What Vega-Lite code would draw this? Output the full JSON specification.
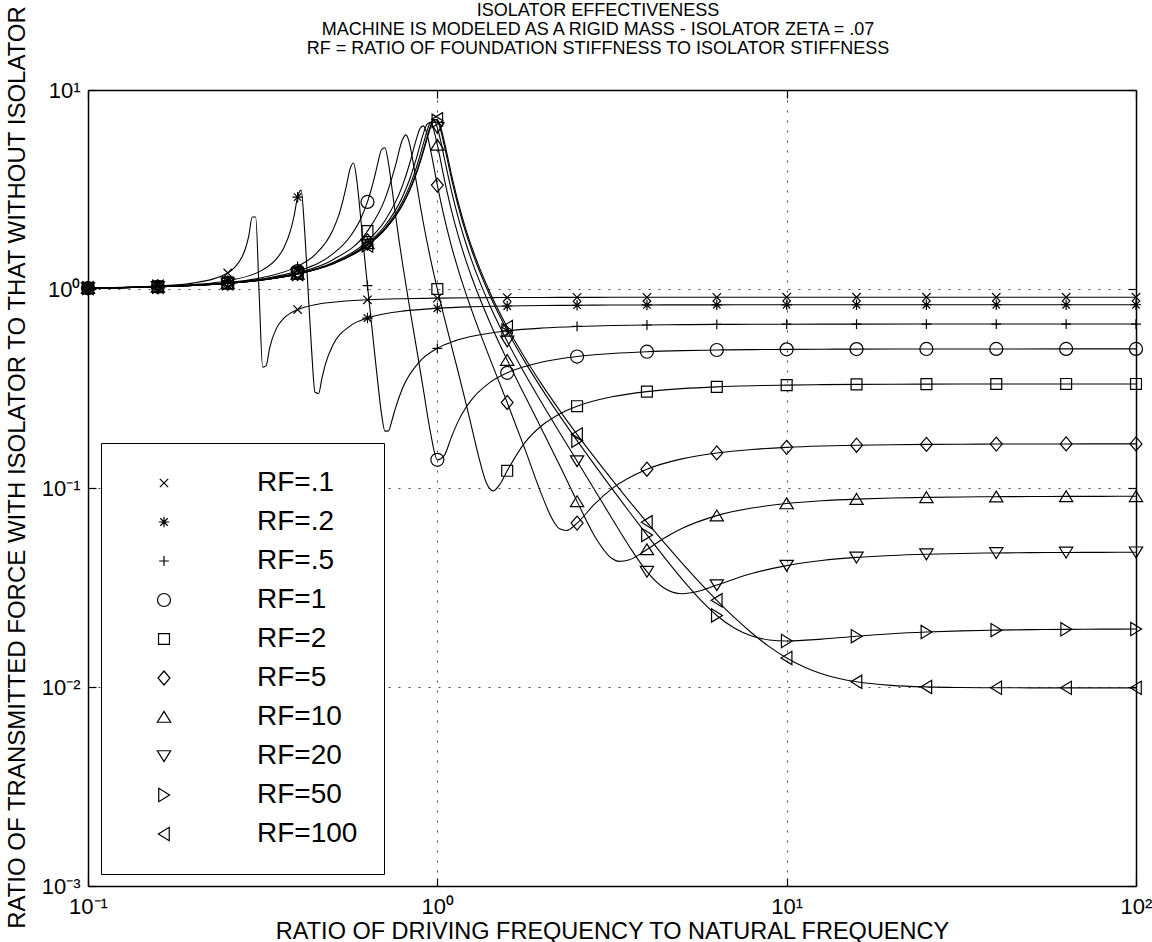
{
  "$schema": "https://vega.github.io/schema/vega-lite/v6.json",
  "width": 1048,
  "height": 796,
  "autosize": {"type": "none"},
  "padding": {"left": 88, "top": 90, "right": 16, "bottom": 56},
  "background": "white",
  "title": {
    "text": ["ISOLATOR EFFECTIVENESS", "MACHINE IS MODELED AS A RIGID MASS - ISOLATOR ZETA = .07", "RF = RATIO OF FOUNDATION STIFFNESS TO ISOLATOR STIFFNESS"],
    "font": "Liberation Sans",
    "fontSize": 18,
    "fontWeight": "normal",
    "color": "black",
    "lineHeight": 19,
    "offset": 9,
    "dy": 62,
    "frame": "group",
    "anchor": "middle",
    "dx": -14
  },
  "datasets": {
    "curves": [
      {"rf":"RF=.1","x":0.1,"y":1.0112},{"rf":"RF=.1","x":0.12589,"y":1.0192},{"rf":"RF=.1","x":0.15849,"y":1.0347},{"rf":"RF=.1","x":0.19953,"y":1.0707},{"rf":"RF=.1","x":0.25119,"y":1.2038},{"rf":"RF=.1","x":0.26303,"y":1.2835},{"rf":"RF=.1","x":0.27542,"y":1.4382},{"rf":"RF=.1","x":0.28184,"y":1.5834},{"rf":"RF=.1","x":0.2884,"y":1.8375},{"rf":"RF=.1","x":0.29512,"y":2.3014},{"rf":"RF=.1","x":0.302,"y":2.3022},{"rf":"RF=.1","x":0.30903,"y":0.939},{"rf":"RF=.1","x":0.31623,"y":0.4048},{"rf":"RF=.1","x":0.32359,"y":0.4125},{"rf":"RF=.1","x":0.33113,"y":0.5066},{"rf":"RF=.1","x":0.34674,"y":0.6378},{"rf":"RF=.1","x":0.36308,"y":0.7115},{"rf":"RF=.1","x":0.38019,"y":0.7573},{"rf":"RF=.1","x":0.39811,"y":0.7881},{"rf":"RF=.1","x":0.44668,"y":0.8335},{"rf":"RF=.1","x":0.50119,"y":0.8578},{"rf":"RF=.1","x":0.63096,"y":0.8823},{"rf":"RF=.1","x":0.79433,"y":0.8938},{"rf":"RF=.1","x":1,"y":0.9},{"rf":"RF=.1","x":1.25893,"y":0.9036},{"rf":"RF=.1","x":1.58489,"y":0.9057},{"rf":"RF=.1","x":1.99526,"y":0.907},{"rf":"RF=.1","x":2.51189,"y":0.9078},{"rf":"RF=.1","x":3.16228,"y":0.9083},{"rf":"RF=.1","x":3.98107,"y":0.9086},{"rf":"RF=.1","x":5.01187,"y":0.9088},{"rf":"RF=.1","x":6.30957,"y":0.9089},{"rf":"RF=.1","x":7.94328,"y":0.909},{"rf":"RF=.1","x":10,"y":0.909},{"rf":"RF=.1","x":15.8489,"y":0.9091},{"rf":"RF=.1","x":25.1189,"y":0.9091},{"rf":"RF=.1","x":39.8107,"y":0.9091},{"rf":"RF=.1","x":63.0957,"y":0.9091},{"rf":"RF=.1","x":100,"y":0.9091},
      {"rf":"RF=.2","x":0.1,"y":1.0106},{"rf":"RF=.2","x":0.12589,"y":1.0175},{"rf":"RF=.2","x":0.15849,"y":1.0296},{"rf":"RF=.2","x":0.19953,"y":1.0522},{"rf":"RF=.2","x":0.25119,"y":1.1012},{"rf":"RF=.2","x":0.31623,"y":1.2473},{"rf":"RF=.2","x":0.34674,"y":1.4206},{"rf":"RF=.2","x":0.36308,"y":1.602},{"rf":"RF=.2","x":0.38019,"y":1.9743},{"rf":"RF=.2","x":0.38905,"y":2.3338},{"rf":"RF=.2","x":0.39811,"y":2.8944},{"rf":"RF=.2","x":0.40738,"y":3.1387},{"rf":"RF=.2","x":0.41687,"y":1.9847},{"rf":"RF=.2","x":0.42658,"y":0.9873},{"rf":"RF=.2","x":0.43652,"y":0.496},{"rf":"RF=.2","x":0.44668,"y":0.3026},{"rf":"RF=.2","x":0.45709,"y":0.2984},{"rf":"RF=.2","x":0.46774,"y":0.3583},{"rf":"RF=.2","x":0.47863,"y":0.4209},{"rf":"RF=.2","x":0.50119,"y":0.5184},{"rf":"RF=.2","x":0.56234,"y":0.651},{"rf":"RF=.2","x":0.63096,"y":0.7147},{"rf":"RF=.2","x":0.70795,"y":0.751},{"rf":"RF=.2","x":0.79433,"y":0.7739},{"rf":"RF=.2","x":1,"y":0.8002},{"rf":"RF=.2","x":1.25893,"y":0.8138},{"rf":"RF=.2","x":1.58489,"y":0.8215},{"rf":"RF=.2","x":1.99526,"y":0.8261},{"rf":"RF=.2","x":2.51189,"y":0.8288},{"rf":"RF=.2","x":3.16228,"y":0.8305},{"rf":"RF=.2","x":3.98107,"y":0.8316},{"rf":"RF=.2","x":5.01187,"y":0.8322},{"rf":"RF=.2","x":6.30957,"y":0.8326},{"rf":"RF=.2","x":7.94328,"y":0.8329},{"rf":"RF=.2","x":10,"y":0.8331},{"rf":"RF=.2","x":15.8489,"y":0.8332},{"rf":"RF=.2","x":25.1189,"y":0.8333},{"rf":"RF=.2","x":39.8107,"y":0.8333},{"rf":"RF=.2","x":63.0957,"y":0.8333},{"rf":"RF=.2","x":100,"y":0.8333},
      {"rf":"RF=.5","x":0.1,"y":1.0103},{"rf":"RF=.5","x":0.12589,"y":1.0166},{"rf":"RF=.5","x":0.15849,"y":1.0272},{"rf":"RF=.5","x":0.19953,"y":1.0452},{"rf":"RF=.5","x":0.25119,"y":1.0777},{"rf":"RF=.5","x":0.31623,"y":1.1423},{"rf":"RF=.5","x":0.39811,"y":1.2992},{"rf":"RF=.5","x":0.44668,"y":1.4872},{"rf":"RF=.5","x":0.50119,"y":1.9613},{"rf":"RF=.5","x":0.52481,"y":2.4128},{"rf":"RF=.5","x":0.54954,"y":3.3208},{"rf":"RF=.5","x":0.56234,"y":4.0},{"rf":"RF=.5","x":0.57544,"y":4.2955},{"rf":"RF=.5","x":0.58884,"y":3.4606},{"rf":"RF=.5","x":0.60256,"y":2.3335},{"rf":"RF=.5","x":0.6166,"y":1.544},{"rf":"RF=.5","x":0.63096,"y":1.0405},{"rf":"RF=.5","x":0.64565,"y":0.7104},{"rf":"RF=.5","x":0.66069,"y":0.4862},{"rf":"RF=.5","x":0.67608,"y":0.3335},{"rf":"RF=.5","x":0.69183,"y":0.2371},{"rf":"RF=.5","x":0.70795,"y":0.1932},{"rf":"RF=.5","x":0.72444,"y":0.1936},{"rf":"RF=.5","x":0.74131,"y":0.2184},{"rf":"RF=.5","x":0.75858,"y":0.2514},{"rf":"RF=.5","x":0.79433,"y":0.3162},{"rf":"RF=.5","x":0.89125,"y":0.4333},{"rf":"RF=.5","x":1,"y":0.5036},{"rf":"RF=.5","x":1.12202,"y":0.5487},{"rf":"RF=.5","x":1.25893,"y":0.5792},{"rf":"RF=.5","x":1.58489,"y":0.6162},{"rf":"RF=.5","x":1.99526,"y":0.6365},{"rf":"RF=.5","x":2.51189,"y":0.6482},{"rf":"RF=.5","x":3.16228,"y":0.6553},{"rf":"RF=.5","x":3.98107,"y":0.6595},{"rf":"RF=.5","x":5.01187,"y":0.6622},{"rf":"RF=.5","x":6.30957,"y":0.6639},{"rf":"RF=.5","x":7.94328,"y":0.6649},{"rf":"RF=.5","x":10,"y":0.6656},{"rf":"RF=.5","x":12.5893,"y":0.666},{"rf":"RF=.5","x":15.8489,"y":0.6662},{"rf":"RF=.5","x":25.1189,"y":0.6665},{"rf":"RF=.5","x":39.8107,"y":0.6666},{"rf":"RF=.5","x":63.0957,"y":0.6667},{"rf":"RF=.5","x":100,"y":0.6667},
      {"rf":"RF=1","x":0.1,"y":1.0102},{"rf":"RF=1","x":0.12589,"y":1.0164},{"rf":"RF=1","x":0.15849,"y":1.0264},{"rf":"RF=1","x":0.19953,"y":1.0432},{"rf":"RF=1","x":0.25119,"y":1.0721},{"rf":"RF=1","x":0.31623,"y":1.1246},{"rf":"RF=1","x":0.39811,"y":1.2307},{"rf":"RF=1","x":0.50119,"y":1.4966},{"rf":"RF=1","x":0.56234,"y":1.8311},{"rf":"RF=1","x":0.60256,"y":2.2422},{"rf":"RF=1","x":0.63096,"y":2.739},{"rf":"RF=1","x":0.66069,"y":3.635},{"rf":"RF=1","x":0.67608,"y":4.3132},{"rf":"RF=1","x":0.69183,"y":5.009},{"rf":"RF=1","x":0.70795,"y":5.1297},{"rf":"RF=1","x":0.72444,"y":4.3035},{"rf":"RF=1","x":0.74131,"y":3.2217},{"rf":"RF=1","x":0.75858,"y":2.3719},{"rf":"RF=1","x":0.77625,"y":1.775},{"rf":"RF=1","x":0.79433,"y":1.3546},{"rf":"RF=1","x":0.83176,"y":0.8217},{"rf":"RF=1","x":0.87096,"y":0.509},{"rf":"RF=1","x":0.91201,"y":0.3126},{"rf":"RF=1","x":0.95499,"y":0.1917},{"rf":"RF=1","x":1,"y":0.1386},{"rf":"RF=1","x":1.04713,"y":0.146},{"rf":"RF=1","x":1.09648,"y":0.1797},{"rf":"RF=1","x":1.14815,"y":0.2168},{"rf":"RF=1","x":1.20226,"y":0.2508},{"rf":"RF=1","x":1.25893,"y":0.2806},{"rf":"RF=1","x":1.41254,"y":0.3386},{"rf":"RF=1","x":1.58489,"y":0.3792},{"rf":"RF=1","x":1.99526,"y":0.4297},{"rf":"RF=1","x":2.51189,"y":0.4578},{"rf":"RF=1","x":3.16228,"y":0.4741},{"rf":"RF=1","x":3.98107,"y":0.484},{"rf":"RF=1","x":5.01187,"y":0.49},{"rf":"RF=1","x":6.30957,"y":0.4937},{"rf":"RF=1","x":7.94328,"y":0.4961},{"rf":"RF=1","x":10,"y":0.4975},{"rf":"RF=1","x":12.5893,"y":0.4984},{"rf":"RF=1","x":15.8489,"y":0.499},{"rf":"RF=1","x":19.9526,"y":0.4994},{"rf":"RF=1","x":25.1189,"y":0.4996},{"rf":"RF=1","x":39.8107,"y":0.4998},{"rf":"RF=1","x":63.0957,"y":0.4999},{"rf":"RF=1","x":100,"y":0.5},
      {"rf":"RF=2","x":0.1,"y":1.0101},{"rf":"RF=2","x":0.12589,"y":1.0162},{"rf":"RF=2","x":0.15849,"y":1.0261},{"rf":"RF=2","x":0.19953,"y":1.0423},{"rf":"RF=2","x":0.25119,"y":1.0696},{"rf":"RF=2","x":0.31623,"y":1.1173},{"rf":"RF=2","x":0.39811,"y":1.2069},{"rf":"RF=2","x":0.50119,"y":1.3987},{"rf":"RF=2","x":0.63096,"y":1.9539},{"rf":"RF=2","x":0.70795,"y":2.8283},{"rf":"RF=2","x":0.75858,"y":4.1575},{"rf":"RF=2","x":0.79433,"y":5.6184},{"rf":"RF=2","x":0.81283,"y":5.9506},{"rf":"RF=2","x":0.83176,"y":5.4273},{"rf":"RF=2","x":0.85114,"y":4.4036},{"rf":"RF=2","x":0.87096,"y":3.4369},{"rf":"RF=2","x":0.89125,"y":2.6935},{"rf":"RF=2","x":0.91201,"y":2.1459},{"rf":"RF=2","x":0.95499,"y":1.4307},{"rf":"RF=2","x":1,"y":1.0},{"rf":"RF=2","x":1.04713,"y":0.7183},{"rf":"RF=2","x":1.09648,"y":0.5225},{"rf":"RF=2","x":1.14815,"y":0.3805},{"rf":"RF=2","x":1.20226,"y":0.2748},{"rf":"RF=2","x":1.25893,"y":0.1961},{"rf":"RF=2","x":1.31826,"y":0.14},{"rf":"RF=2","x":1.38038,"y":0.1065},{"rf":"RF=2","x":1.44544,"y":0.0967},{"rf":"RF=2","x":1.51356,"y":0.1051},{"rf":"RF=2","x":1.58489,"y":0.122},{"rf":"RF=2","x":1.77828,"y":0.1685},{"rf":"RF=2","x":1.99526,"y":0.2067},{"rf":"RF=2","x":2.23872,"y":0.2357},{"rf":"RF=2","x":2.51189,"y":0.2577},{"rf":"RF=2","x":3.16228,"y":0.2873},{"rf":"RF=2","x":3.98107,"y":0.305},{"rf":"RF=2","x":5.01187,"y":0.3157},{"rf":"RF=2","x":6.30957,"y":0.3223},{"rf":"RF=2","x":7.94328,"y":0.3264},{"rf":"RF=2","x":10,"y":0.329},{"rf":"RF=2","x":12.5893,"y":0.3306},{"rf":"RF=2","x":15.8489,"y":0.3316},{"rf":"RF=2","x":19.9526,"y":0.3322},{"rf":"RF=2","x":25.1189,"y":0.3327},{"rf":"RF=2","x":31.6228,"y":0.3329},{"rf":"RF=2","x":39.8107,"y":0.3331},{"rf":"RF=2","x":63.0957,"y":0.3332},{"rf":"RF=2","x":100,"y":0.3333},
      {"rf":"RF=5","x":0.1,"y":1.0101},{"rf":"RF=5","x":0.12589,"y":1.0162},{"rf":"RF=5","x":0.15849,"y":1.0259},{"rf":"RF=5","x":0.19953,"y":1.0418},{"rf":"RF=5","x":0.25119,"y":1.0682},{"rf":"RF=5","x":0.31623,"y":1.1134},{"rf":"RF=5","x":0.39811,"y":1.1949},{"rf":"RF=5","x":0.50119,"y":1.3565},{"rf":"RF=5","x":0.63096,"y":1.7456},{"rf":"RF=5","x":0.70795,"y":2.204},{"rf":"RF=5","x":0.79433,"y":3.2978},{"rf":"RF=5","x":0.83176,"y":4.2228},{"rf":"RF=5","x":0.87096,"y":5.6614},{"rf":"RF=5","x":0.89125,"y":6.3807},{"rf":"RF=5","x":0.91201,"y":6.6044},{"rf":"RF=5","x":0.93325,"y":6.0481},{"rf":"RF=5","x":0.95499,"y":5.0616},{"rf":"RF=5","x":1,"y":3.3267},{"rf":"RF=5","x":1.04713,"y":2.2817},{"rf":"RF=5","x":1.09648,"y":1.6538},{"rf":"RF=5","x":1.14815,"y":1.2484},{"rf":"RF=5","x":1.20226,"y":0.9695},{"rf":"RF=5","x":1.25893,"y":0.7676},{"rf":"RF=5","x":1.41254,"y":0.4492},{"rf":"RF=5","x":1.58489,"y":0.2689},{"rf":"RF=5","x":1.77828,"y":0.1582},{"rf":"RF=5","x":1.99526,"y":0.0913},{"rf":"RF=5","x":2.13796,"y":0.06927},{"rf":"RF=5","x":2.23872,"y":0.06239},{"rf":"RF=5","x":2.34423,"y":0.06117},{"rf":"RF=5","x":2.51189,"y":0.06663},{"rf":"RF=5","x":2.81838,"y":0.08297},{"rf":"RF=5","x":3.16228,"y":0.09934},{"rf":"RF=5","x":3.98107,"y":0.12427},{"rf":"RF=5","x":5.01187,"y":0.14012},{"rf":"RF=5","x":6.30957,"y":0.15002},{"rf":"RF=5","x":7.94328,"y":0.1562},{"rf":"RF=5","x":10,"y":0.16008},{"rf":"RF=5","x":12.5893,"y":0.16252},{"rf":"RF=5","x":15.8489,"y":0.16406},{"rf":"RF=5","x":19.9526,"y":0.16502},{"rf":"RF=5","x":25.1189,"y":0.16563},{"rf":"RF=5","x":31.6228,"y":0.16601},{"rf":"RF=5","x":39.8107,"y":0.16625},{"rf":"RF=5","x":50.1187,"y":0.16641},{"rf":"RF=5","x":63.0957,"y":0.1665},{"rf":"RF=5","x":79.4328,"y":0.16656},{"rf":"RF=5","x":100,"y":0.1666},
      {"rf":"RF=10","x":0.1,"y":1.0101},{"rf":"RF=10","x":0.12589,"y":1.0161},{"rf":"RF=10","x":0.15849,"y":1.0258},{"rf":"RF=10","x":0.19953,"y":1.0416},{"rf":"RF=10","x":0.25119,"y":1.0677},{"rf":"RF=10","x":0.31623,"y":1.1121},{"rf":"RF=10","x":0.39811,"y":1.1912},{"rf":"RF=10","x":0.50119,"y":1.3443},{"rf":"RF=10","x":0.63096,"y":1.6947},{"rf":"RF=10","x":0.70795,"y":2.0784},{"rf":"RF=10","x":0.79433,"y":2.8983},{"rf":"RF=10","x":0.83176,"y":3.5286},{"rf":"RF=10","x":0.87096,"y":4.5334},{"rf":"RF=10","x":0.91201,"y":6.0335},{"rf":"RF=10","x":0.93325,"y":6.7205},{"rf":"RF=10","x":0.95499,"y":6.8687},{"rf":"RF=10","x":0.97724,"y":6.2729},{"rf":"RF=10","x":1,"y":5.2941},{"rf":"RF=10","x":1.04713,"y":3.5674},{"rf":"RF=10","x":1.09648,"y":2.5005},{"rf":"RF=10","x":1.14815,"y":1.8474},{"rf":"RF=10","x":1.20226,"y":1.4211},{"rf":"RF=10","x":1.25893,"y":1.1254},{"rf":"RF=10","x":1.41254,"y":0.6809},{"rf":"RF=10","x":1.58489,"y":0.4395},{"rf":"RF=10","x":1.77828,"y":0.2921},{"rf":"RF=10","x":1.99526,"y":0.1957},{"rf":"RF=10","x":2.23872,"y":0.1302},{"rf":"RF=10","x":2.51189,"y":0.08566},{"rf":"RF=10","x":2.81838,"y":0.05743},{"rf":"RF=10","x":3.16228,"y":0.04423},{"rf":"RF=10","x":3.31131,"y":0.04277},{"rf":"RF=10","x":3.54813,"y":0.04357},{"rf":"RF=10","x":3.98107,"y":0.04913},{"rf":"RF=10","x":4.46684,"y":0.05609},{"rf":"RF=10","x":5.01187,"y":0.06257},{"rf":"RF=10","x":6.30957,"y":0.07264},{"rf":"RF=10","x":7.94328,"y":0.07929},{"rf":"RF=10","x":10,"y":0.08356},{"rf":"RF=10","x":12.5893,"y":0.08626},{"rf":"RF=10","x":15.8489,"y":0.08797},{"rf":"RF=10","x":19.9526,"y":0.08906},{"rf":"RF=10","x":25.1189,"y":0.08974},{"rf":"RF=10","x":31.6228,"y":0.09017},{"rf":"RF=10","x":39.8107,"y":0.09044},{"rf":"RF=10","x":50.1187,"y":0.09062},{"rf":"RF=10","x":63.0957,"y":0.09072},{"rf":"RF=10","x":79.4328,"y":0.09079},{"rf":"RF=10","x":100,"y":0.09084},
      {"rf":"RF=20","x":0.1,"y":1.0101},{"rf":"RF=20","x":0.12589,"y":1.0161},{"rf":"RF=20","x":0.15849,"y":1.0258},{"rf":"RF=20","x":0.19953,"y":1.0415},{"rf":"RF=20","x":0.25119,"y":1.0675},{"rf":"RF=20","x":0.31623,"y":1.1115},{"rf":"RF=20","x":0.39811,"y":1.1894},{"rf":"RF=20","x":0.50119,"y":1.3385},{"rf":"RF=20","x":0.63096,"y":1.6717},{"rf":"RF=20","x":0.70795,"y":2.0247},{"rf":"RF=20","x":0.79433,"y":2.7433},{"rf":"RF=20","x":0.83176,"y":3.2705},{"rf":"RF=20","x":0.87096,"y":4.0879},{"rf":"RF=20","x":0.91201,"y":5.3763},{"rf":"RF=20","x":0.93325,"y":6.1826},{"rf":"RF=20","x":0.95499,"y":6.8711},{"rf":"RF=20","x":0.97724,"y":7.0302},{"rf":"RF=20","x":1,"y":6.4594},{"rf":"RF=20","x":1.02329,"y":5.495},{"rf":"RF=20","x":1.04713,"y":4.5401},{"rf":"RF=20","x":1.09648,"y":3.1329},{"rf":"RF=20","x":1.14815,"y":2.276},{"rf":"RF=20","x":1.20226,"y":1.732},{"rf":"RF=20","x":1.25893,"y":1.3643},{"rf":"RF=20","x":1.41254,"y":0.8283},{"rf":"RF=20","x":1.58489,"y":0.5459},{"rf":"RF=20","x":1.77828,"y":0.3762},{"rf":"RF=20","x":1.99526,"y":0.2657},{"rf":"RF=20","x":2.23872,"y":0.19006},{"rf":"RF=20","x":2.51189,"y":0.13654},{"rf":"RF=20","x":2.81838,"y":0.09801},{"rf":"RF=20","x":3.16228,"y":0.07022},{"rf":"RF=20","x":3.54813,"y":0.05068},{"rf":"RF=20","x":3.98107,"y":0.038},{"rf":"RF=20","x":4.46684,"y":0.03133},{"rf":"RF=20","x":5.01187,"y":0.02942},{"rf":"RF=20","x":5.62341,"y":0.03038},{"rf":"RF=20","x":6.30957,"y":0.03252},{"rf":"RF=20","x":7.94328,"y":0.03716},{"rf":"RF=20","x":10,"y":0.04075},{"rf":"RF=20","x":12.5893,"y":0.04319},{"rf":"RF=20","x":15.8489,"y":0.0448},{"rf":"RF=20","x":19.9526,"y":0.04583},{"rf":"RF=20","x":25.1189,"y":0.04648},{"rf":"RF=20","x":31.6228,"y":0.0469},{"rf":"RF=20","x":39.8107,"y":0.04717},{"rf":"RF=20","x":50.1187,"y":0.04733},{"rf":"RF=20","x":63.0957,"y":0.04744},{"rf":"RF=20","x":79.4328,"y":0.0475},{"rf":"RF=20","x":100,"y":0.04755},
      {"rf":"RF=50","x":0.1,"y":1.0101},{"rf":"RF=50","x":0.12589,"y":1.0161},{"rf":"RF=50","x":0.15849,"y":1.0258},{"rf":"RF=50","x":0.19953,"y":1.0415},{"rf":"RF=50","x":0.25119,"y":1.0673},{"rf":"RF=50","x":0.31623,"y":1.1111},{"rf":"RF=50","x":0.39811,"y":1.1883},{"rf":"RF=50","x":0.50119,"y":1.3351},{"rf":"RF=50","x":0.63096,"y":1.6587},{"rf":"RF=50","x":0.70795,"y":1.9949},{"rf":"RF=50","x":0.79433,"y":2.6612},{"rf":"RF=50","x":0.83176,"y":3.1372},{"rf":"RF=50","x":0.87096,"y":3.861},{"rf":"RF=50","x":0.91201,"y":5.0024},{"rf":"RF=50","x":0.93325,"y":5.7683},{"rf":"RF=50","x":0.95499,"y":6.5705},{"rf":"RF=50","x":0.97724,"y":7.1126},{"rf":"RF=50","x":1,"y":7.0},{"rf":"RF=50","x":1.02329,"y":6.2384},{"rf":"RF=50","x":1.04713,"y":5.2482},{"rf":"RF=50","x":1.09648,"y":3.6128},{"rf":"RF=50","x":1.14815,"y":2.5951},{"rf":"RF=50","x":1.20226,"y":1.9581},{"rf":"RF=50","x":1.25893,"y":1.5348},{"rf":"RF=50","x":1.41254,"y":0.9301},{"rf":"RF=50","x":1.58489,"y":0.6182},{"rf":"RF=50","x":1.77828,"y":0.4328},{"rf":"RF=50","x":1.99526,"y":0.313},{"rf":"RF=50","x":2.23872,"y":0.231},{"rf":"RF=50","x":2.51189,"y":0.17292},{"rf":"RF=50","x":2.81838,"y":0.13062},{"rf":"RF=50","x":3.16228,"y":0.09927},{"rf":"RF=50","x":3.54813,"y":0.07578},{"rf":"RF=50","x":3.98107,"y":0.05809},{"rf":"RF=50","x":4.46684,"y":0.04479},{"rf":"RF=50","x":5.01187,"y":0.03492},{"rf":"RF=50","x":5.62341,"y":0.02779},{"rf":"RF=50","x":6.30957,"y":0.02288},{"rf":"RF=50","x":7.07946,"y":0.01977},{"rf":"RF=50","x":7.94328,"y":0.01803},{"rf":"RF=50","x":8.91251,"y":0.01724},{"rf":"RF=50","x":10,"y":0.01703},{"rf":"RF=50","x":12.5893,"y":0.0174},{"rf":"RF=50","x":15.8489,"y":0.018},{"rf":"RF=50","x":19.9526,"y":0.01852},{"rf":"RF=50","x":25.1189,"y":0.01889},{"rf":"RF=50","x":31.6228,"y":0.01914},{"rf":"RF=50","x":39.8107,"y":0.01931},{"rf":"RF=50","x":50.1187,"y":0.01942},{"rf":"RF=50","x":63.0957,"y":0.01949},{"rf":"RF=50","x":79.4328,"y":0.01953},{"rf":"RF=50","x":100,"y":0.01956},
      {"rf":"RF=100","x":0.1,"y":1.0101},{"rf":"RF=100","x":0.12589,"y":1.0161},{"rf":"RF=100","x":0.15849,"y":1.0258},{"rf":"RF=100","x":0.19953,"y":1.0415},{"rf":"RF=100","x":0.25119,"y":1.0673},{"rf":"RF=100","x":0.31623,"y":1.111},{"rf":"RF=100","x":0.39811,"y":1.1879},{"rf":"RF=100","x":0.50119,"y":1.334},{"rf":"RF=100","x":0.63096,"y":1.6544},{"rf":"RF=100","x":0.70795,"y":1.9853},{"rf":"RF=100","x":0.79433,"y":2.6355},{"rf":"RF=100","x":0.83176,"y":3.0959},{"rf":"RF=100","x":0.87096,"y":3.7914},{"rf":"RF=100","x":0.91201,"y":4.886},{"rf":"RF=100","x":0.93325,"y":5.6292},{"rf":"RF=100","x":0.95499,"y":6.4413},{"rf":"RF=100","x":0.97724,"y":7.0745},{"rf":"RF=100","x":1,"y":7.1236},{"rf":"RF=100","x":1.02329,"y":6.4753},{"rf":"RF=100","x":1.04713,"y":5.501},{"rf":"RF=100","x":1.09648,"y":3.793},{"rf":"RF=100","x":1.14815,"y":2.7142},{"rf":"RF=100","x":1.20226,"y":2.0416},{"rf":"RF=100","x":1.25893,"y":1.597},{"rf":"RF=100","x":1.41254,"y":0.9667},{"rf":"RF=100","x":1.58489,"y":0.6438},{"rf":"RF=100","x":1.77828,"y":0.4528},{"rf":"RF=100","x":1.99526,"y":0.3296},{"rf":"RF=100","x":2.23872,"y":0.2455},{"rf":"RF=100","x":2.51189,"y":0.18587},{"rf":"RF=100","x":2.81838,"y":0.14239},{"rf":"RF=100","x":3.16228,"y":0.11009},{"rf":"RF=100","x":3.54813,"y":0.08574},{"rf":"RF=100","x":3.98107,"y":0.06721},{"rf":"RF=100","x":4.46684,"y":0.05301},{"rf":"RF=100","x":5.01187,"y":0.04209},{"rf":"RF=100","x":5.62341,"y":0.03369},{"rf":"RF=100","x":6.30957,"y":0.02726},{"rf":"RF=100","x":7.07946,"y":0.02236},{"rf":"RF=100","x":7.94328,"y":0.01868},{"rf":"RF=100","x":8.91251,"y":0.01596},{"rf":"RF=100","x":10,"y":0.014},{"rf":"RF=100","x":11.2202,"y":0.01262},{"rf":"RF=100","x":12.5893,"y":0.01167},{"rf":"RF=100","x":14.1254,"y":0.01104},{"rf":"RF=100","x":15.8489,"y":0.01062},{"rf":"RF=100","x":19.9526,"y":0.01019},{"rf":"RF=100","x":25.1189,"y":0.01001},{"rf":"RF=100","x":31.6228,"y":0.00994},{"rf":"RF=100","x":39.8107,"y":0.009914},{"rf":"RF=100","x":50.1187,"y":0.009905},{"rf":"RF=100","x":63.0957,"y":0.009902},{"rf":"RF=100","x":79.4328,"y":0.009901},{"rf":"RF=100","x":100,"y":0.009901}
    ],
    "markers": [
      {"rf":"RF=.1","x":0.1,"y":1.0112},{"rf":"RF=.1","x":0.15849,"y":1.0347},{"rf":"RF=.1","x":0.25119,"y":1.2038},{"rf":"RF=.1","x":0.39811,"y":0.7881},{"rf":"RF=.1","x":0.63096,"y":0.8823},{"rf":"RF=.1","x":1,"y":0.9},{"rf":"RF=.1","x":1.58489,"y":0.9057},{"rf":"RF=.1","x":2.51189,"y":0.9078},{"rf":"RF=.1","x":3.98107,"y":0.9086},{"rf":"RF=.1","x":6.30957,"y":0.9089},{"rf":"RF=.1","x":10,"y":0.909},{"rf":"RF=.1","x":15.8489,"y":0.9091},{"rf":"RF=.1","x":25.1189,"y":0.9091},{"rf":"RF=.1","x":39.8107,"y":0.9091},{"rf":"RF=.1","x":63.0957,"y":0.9091},{"rf":"RF=.1","x":100,"y":0.9091},
      {"rf":"RF=.2","x":0.1,"y":1.0106},{"rf":"RF=.2","x":0.15849,"y":1.0296},{"rf":"RF=.2","x":0.25119,"y":1.1012},{"rf":"RF=.2","x":0.39811,"y":2.8944},{"rf":"RF=.2","x":0.63096,"y":0.7147},{"rf":"RF=.2","x":1,"y":0.8002},{"rf":"RF=.2","x":1.58489,"y":0.8215},{"rf":"RF=.2","x":2.51189,"y":0.8288},{"rf":"RF=.2","x":3.98107,"y":0.8316},{"rf":"RF=.2","x":6.30957,"y":0.8326},{"rf":"RF=.2","x":10,"y":0.8331},{"rf":"RF=.2","x":15.8489,"y":0.8332},{"rf":"RF=.2","x":25.1189,"y":0.8333},{"rf":"RF=.2","x":39.8107,"y":0.8333},{"rf":"RF=.2","x":63.0957,"y":0.8333},{"rf":"RF=.2","x":100,"y":0.8333},
      {"rf":"RF=.5","x":0.1,"y":1.0103},{"rf":"RF=.5","x":0.15849,"y":1.0272},{"rf":"RF=.5","x":0.25119,"y":1.0777},{"rf":"RF=.5","x":0.39811,"y":1.2992},{"rf":"RF=.5","x":0.63096,"y":1.0405},{"rf":"RF=.5","x":1,"y":0.5036},{"rf":"RF=.5","x":1.58489,"y":0.6162},{"rf":"RF=.5","x":2.51189,"y":0.6482},{"rf":"RF=.5","x":3.98107,"y":0.6595},{"rf":"RF=.5","x":6.30957,"y":0.6639},{"rf":"RF=.5","x":10,"y":0.6656},{"rf":"RF=.5","x":15.8489,"y":0.6662},{"rf":"RF=.5","x":25.1189,"y":0.6665},{"rf":"RF=.5","x":39.8107,"y":0.6666},{"rf":"RF=.5","x":63.0957,"y":0.6667},{"rf":"RF=.5","x":100,"y":0.6667},
      {"rf":"RF=1","x":0.1,"y":1.0102},{"rf":"RF=1","x":0.15849,"y":1.0264},{"rf":"RF=1","x":0.25119,"y":1.0721},{"rf":"RF=1","x":0.39811,"y":1.2307},{"rf":"RF=1","x":0.63096,"y":2.739},{"rf":"RF=1","x":1,"y":0.1386},{"rf":"RF=1","x":1.58489,"y":0.3792},{"rf":"RF=1","x":2.51189,"y":0.4578},{"rf":"RF=1","x":3.98107,"y":0.484},{"rf":"RF=1","x":6.30957,"y":0.4937},{"rf":"RF=1","x":10,"y":0.4975},{"rf":"RF=1","x":15.8489,"y":0.499},{"rf":"RF=1","x":25.1189,"y":0.4996},{"rf":"RF=1","x":39.8107,"y":0.4998},{"rf":"RF=1","x":63.0957,"y":0.4999},{"rf":"RF=1","x":100,"y":0.5},
      {"rf":"RF=2","x":0.1,"y":1.0101},{"rf":"RF=2","x":0.15849,"y":1.0261},{"rf":"RF=2","x":0.25119,"y":1.0696},{"rf":"RF=2","x":0.39811,"y":1.2069},{"rf":"RF=2","x":0.63096,"y":1.9539},{"rf":"RF=2","x":1,"y":1.0},{"rf":"RF=2","x":1.58489,"y":0.122},{"rf":"RF=2","x":2.51189,"y":0.2577},{"rf":"RF=2","x":3.98107,"y":0.305},{"rf":"RF=2","x":6.30957,"y":0.3223},{"rf":"RF=2","x":10,"y":0.329},{"rf":"RF=2","x":15.8489,"y":0.3316},{"rf":"RF=2","x":25.1189,"y":0.3327},{"rf":"RF=2","x":39.8107,"y":0.3331},{"rf":"RF=2","x":63.0957,"y":0.3332},{"rf":"RF=2","x":100,"y":0.3333},
      {"rf":"RF=5","x":0.1,"y":1.0101},{"rf":"RF=5","x":0.15849,"y":1.0259},{"rf":"RF=5","x":0.25119,"y":1.0682},{"rf":"RF=5","x":0.39811,"y":1.1949},{"rf":"RF=5","x":0.63096,"y":1.7456},{"rf":"RF=5","x":1,"y":3.3267},{"rf":"RF=5","x":1.58489,"y":0.2689},{"rf":"RF=5","x":2.51189,"y":0.06663},{"rf":"RF=5","x":3.98107,"y":0.12427},{"rf":"RF=5","x":6.30957,"y":0.15002},{"rf":"RF=5","x":10,"y":0.16008},{"rf":"RF=5","x":15.8489,"y":0.16406},{"rf":"RF=5","x":25.1189,"y":0.16563},{"rf":"RF=5","x":39.8107,"y":0.16625},{"rf":"RF=5","x":63.0957,"y":0.1665},{"rf":"RF=5","x":100,"y":0.1666},
      {"rf":"RF=10","x":0.1,"y":1.0101},{"rf":"RF=10","x":0.15849,"y":1.0258},{"rf":"RF=10","x":0.25119,"y":1.0677},{"rf":"RF=10","x":0.39811,"y":1.1912},{"rf":"RF=10","x":0.63096,"y":1.6947},{"rf":"RF=10","x":1,"y":5.2941},{"rf":"RF=10","x":1.58489,"y":0.4395},{"rf":"RF=10","x":2.51189,"y":0.08566},{"rf":"RF=10","x":3.98107,"y":0.04913},{"rf":"RF=10","x":6.30957,"y":0.07264},{"rf":"RF=10","x":10,"y":0.08356},{"rf":"RF=10","x":15.8489,"y":0.08797},{"rf":"RF=10","x":25.1189,"y":0.08974},{"rf":"RF=10","x":39.8107,"y":0.09044},{"rf":"RF=10","x":63.0957,"y":0.09072},{"rf":"RF=10","x":100,"y":0.09084},
      {"rf":"RF=20","x":0.1,"y":1.0101},{"rf":"RF=20","x":0.15849,"y":1.0258},{"rf":"RF=20","x":0.25119,"y":1.0675},{"rf":"RF=20","x":0.39811,"y":1.1894},{"rf":"RF=20","x":0.63096,"y":1.6717},{"rf":"RF=20","x":1,"y":6.4594},{"rf":"RF=20","x":1.58489,"y":0.5459},{"rf":"RF=20","x":2.51189,"y":0.13654},{"rf":"RF=20","x":3.98107,"y":0.038},{"rf":"RF=20","x":6.30957,"y":0.03252},{"rf":"RF=20","x":10,"y":0.04075},{"rf":"RF=20","x":15.8489,"y":0.0448},{"rf":"RF=20","x":25.1189,"y":0.04648},{"rf":"RF=20","x":39.8107,"y":0.04717},{"rf":"RF=20","x":63.0957,"y":0.04744},{"rf":"RF=20","x":100,"y":0.04755},
      {"rf":"RF=50","x":0.1,"y":1.0101},{"rf":"RF=50","x":0.15849,"y":1.0258},{"rf":"RF=50","x":0.25119,"y":1.0673},{"rf":"RF=50","x":0.39811,"y":1.1883},{"rf":"RF=50","x":0.63096,"y":1.6587},{"rf":"RF=50","x":1,"y":7.0},{"rf":"RF=50","x":1.58489,"y":0.6182},{"rf":"RF=50","x":2.51189,"y":0.17292},{"rf":"RF=50","x":3.98107,"y":0.05809},{"rf":"RF=50","x":6.30957,"y":0.02288},{"rf":"RF=50","x":10,"y":0.01703},{"rf":"RF=50","x":15.8489,"y":0.018},{"rf":"RF=50","x":25.1189,"y":0.01889},{"rf":"RF=50","x":39.8107,"y":0.01931},{"rf":"RF=50","x":63.0957,"y":0.01949},{"rf":"RF=50","x":100,"y":0.01956},
      {"rf":"RF=100","x":0.1,"y":1.0101},{"rf":"RF=100","x":0.15849,"y":1.0258},{"rf":"RF=100","x":0.25119,"y":1.0673},{"rf":"RF=100","x":0.39811,"y":1.1879},{"rf":"RF=100","x":0.63096,"y":1.6544},{"rf":"RF=100","x":1,"y":7.1236},{"rf":"RF=100","x":1.58489,"y":0.6438},{"rf":"RF=100","x":2.51189,"y":0.18587},{"rf":"RF=100","x":3.98107,"y":0.06721},{"rf":"RF=100","x":6.30957,"y":0.02726},{"rf":"RF=100","x":10,"y":0.014},{"rf":"RF=100","x":15.8489,"y":0.01062},{"rf":"RF=100","x":25.1189,"y":0.01001},{"rf":"RF=100","x":39.8107,"y":0.009914},{"rf":"RF=100","x":63.0957,"y":0.009902},{"rf":"RF=100","x":100,"y":0.009901}
    ]
  },
  "config": {
    "font": "Liberation Sans",
    "view": {"stroke": null},
    "axis": {
      "domainColor": "black",
      "domainWidth": 1.5,
      "tickColor": "black",
      "tickWidth": 1.2,
      "labelColor": "black",
      "titleColor": "black",
      "labelFont": "Liberation Sans",
      "titleFont": "Liberation Sans",
      "titleFontWeight": "normal",
      "labelFlush": false,
      "labelOverlap": false,
      "labelBound": false,
      "gridColor": "#333333",
      "gridDash": [2, 8],
      "gridWidth": 1,
      "gridOpacity": 0.9
    }
  },
  "layer": [
    {
      "data": {"name": "curves"},
      "mark": {"type": "line", "color": "black", "strokeWidth": 1.1, "interpolate": "monotone"},
      "encoding": {
        "x": {
          "field": "x", "type": "quantitative",
          "scale": {"type": "log", "domain": [0.1, 100], "nice": false},
          "axis": {
            "orient": "bottom",
            "values": [0.1, 1, 10, 100],
            "labelExpr": "datum.value < 0.5 ? '10⁻¹' : datum.value < 5 ? '10⁰' : datum.value < 50 ? '10¹' : '10²'",
            "labelFontSize": 22,
            "labelPadding": 18,
            "tickSize": -8,
            "grid": true,
            "title": "RATIO OF DRIVING FREQUENCY TO NATURAL FREQUENCY",
            "titleFontSize": 23.5,
            "titleY": 52,
            "titleBaseline": "alphabetic"
          }
        },
        "y": {
          "field": "y", "type": "quantitative",
          "scale": {"type": "log", "domain": [0.001, 10], "nice": false},
          "axis": {
            "orient": "left",
            "values": [0.001, 0.01, 0.1, 1, 10],
            "labelExpr": "datum.value < 0.005 ? '10⁻³' : datum.value < 0.05 ? '10⁻²' : datum.value < 0.5 ? '10⁻¹' : datum.value < 5 ? '10⁰' : '10¹'",
            "labelFontSize": 22,
            "labelPadding": 16,
            "labelBaseline": "middle",
            "tickSize": -8,
            "grid": true,
            "title": "RATIO OF TRANSMITTED FORCE WITH ISOLATOR TO THAT WITHOUT ISOLATOR",
            "titleFontSize": 24,
            "titleAngle": -90,
            "titleAlign": "center",
            "titleBaseline": "alphabetic",
            "titleX": -64,
            "titleY": 377
          }
        },
        "detail": {"field": "rf", "type": "nominal"}
      }
    },
    {
      "data": {"name": "markers"},
      "mark": {"type": "point", "filled": false, "color": "black", "strokeWidth": 1.2, "size": 196, "opacity": 1},
      "encoding": {
        "x": {
          "field": "x", "type": "quantitative",
          "scale": {"type": "log", "domain": [0.1, 100], "nice": false},
          "axis": {"orient": "top", "values": [0.1, 1, 10, 100], "labels": false, "tickSize": -8, "grid": false, "title": null}
        },
        "y": {
          "field": "y", "type": "quantitative",
          "scale": {"type": "log", "domain": [0.001, 10], "nice": false},
          "axis": {"orient": "right", "values": [0.001, 0.01, 0.1, 1, 10], "labels": false, "tickSize": -8, "grid": false, "title": null}
        },
        "shape": {
          "field": "rf", "type": "nominal",
          "scale": {
            "domain": ["RF=.1", "RF=.2", "RF=.5", "RF=1", "RF=2", "RF=5", "RF=10", "RF=20", "RF=50", "RF=100"],
            "range": [
              "M-0.6,-0.6L0.6,0.6M-0.6,0.6L0.6,-0.6",
              "M-0.75,0L0.75,0M0,-0.75L0,0.75M-0.53,-0.53L0.53,0.53M-0.53,0.53L0.53,-0.53",
              "M-0.7,0L0.7,0M0,-0.7L0,0.7",
              "M0.93,0A0.93,0.93,0,1,1,-0.93,0A0.93,0.93,0,1,1,0.93,0Z",
              "M-0.78,-0.78L0.78,-0.78L0.78,0.78L-0.78,0.78Z",
              "M0,-1L0.85,0L0,1L-0.85,0Z",
              "M0,-0.8L0.95,0.75L-0.95,0.75Z",
              "M0,0.8L0.95,-0.75L-0.95,-0.75Z",
              "M0.8,0L-0.75,0.95L-0.75,-0.95Z",
              "M-0.8,0L0.75,0.95L0.75,-0.95Z"
            ]
          },
          "legend": {
            "title": null,
            "orient": "none",
            "legendX": 13,
            "legendY": 353,
            "padding": 26,
            "strokeColor": "black",
            "fillColor": "white",
            "labelFont": "Liberation Sans",
            "labelFontSize": 28,
            "labelColor": "black",
            "labelLimit": 400,
            "symbolSize": 196,
            "symbolStrokeColor": "black",
            "symbolStrokeWidth": 1.2,
            "symbolFillColor": "transparent",
            "symbolOffset": 23,
            "labelOffset": 79,
            "rowPadding": 11
          }
        }
      }
    }
  ],
  "resolve": {"axis": {"x": "independent", "y": "independent"}}
}
